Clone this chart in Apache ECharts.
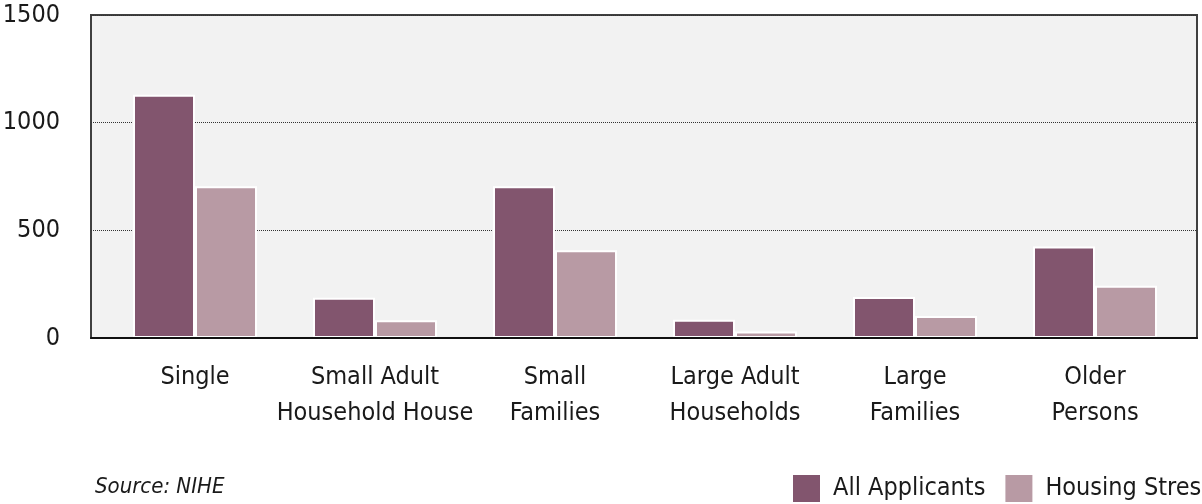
<!DOCTYPE html>
<html>
<head>
<meta charset="utf-8">
<script src="https://cdn.jsdelivr.net/npm/echarts@6/dist/echarts.min.js"></script>
<style>
  html, body { margin: 0; padding: 0; background: #ffffff; }
  #chart { width: 1202px; height: 504px; }
</style>
</head>
<body>
<div id="chart"></div>
<script>
// Household groups and applicant counts
const categories = ['Single', 'Small Adult\nHousehold House', 'Small\nFamilies', 'Large Adult\nHouseholds', 'Large\nFamilies', 'Older\nPersons'];
const allApplicants = [1130, 187, 705, 85, 190, 425];
const housingStress = [705, 82, 407, 30, 102, 243];
const yTicks = { min: 0, max: 1500, interval: 500 };
const seriesNames = ['All Applicants', 'Housing Stress'];
const sourceNote = 'Source: NIHE';

const FONT = '"DejaVu Sans Condensed", "Liberation Sans Narrow", Roboto, sans-serif';
const FS = 25;
const TEXT = '#1a1a1a';
const COLORS = ['#82556e', '#b89aa4'];

const chart = echarts.init(document.getElementById('chart'), null, { renderer: 'canvas' });

chart.setOption({
  animation: false,
  color: COLORS,
  textStyle: { fontFamily: FONT, color: TEXT },
  title: {
    text: sourceNote,
    left: 90,
    top: 471,
    textStyle: { fontFamily: FONT, fontSize: 22, fontStyle: 'italic', fontWeight: 'normal', color: TEXT }
  },
  legend: {
    left: 791,
    top: 473,
    width: 600,
    padding: 0,
    itemWidth: 29,
    itemHeight: 29,
    itemGap: 18,
    icon: 'rect',
    data: seriesNames,
    textStyle: { fontFamily: FONT, fontSize: FS, color: TEXT, padding: [0, 0, 0, 7] }
  },
  grid: [
    // framed plot panel with the value scale
    { left: 91, right: 5, top: 15, bottom: 166, outerBoundsMode: 'none', containLabel: false,
      show: true, backgroundColor: '#f2f2f2', borderColor: '#404040', borderWidth: 2 },
    // inner band that holds the category groups
    { left: 105, right: 17, top: 15, bottom: 166, outerBoundsMode: 'none', containLabel: false }
  ],
  xAxis: [
    {
      gridIndex: 0, type: 'value', min: 0, max: 1, z: 10,
      axisLine: { show: true, lineStyle: { color: '#111', width: 2 } },
      axisTick: { show: false }, axisLabel: { show: false }, splitLine: { show: false }
    },
    {
      gridIndex: 1, type: 'category', data: categories,
      axisLine: { show: false }, axisTick: { show: false },
      axisLabel: { fontFamily: FONT, fontSize: FS, color: TEXT, lineHeight: 36, margin: 21, interval: 0 }
    }
  ],
  yAxis: [
    {
      gridIndex: 0, type: 'value', min: yTicks.min, max: yTicks.max, interval: yTicks.interval,
      axisLine: { show: false }, axisTick: { show: false },
      axisLabel: { fontFamily: FONT, fontSize: FS, color: TEXT, margin: 31, formatter: v => String(v) },
      splitLine: { show: true, lineStyle: { type: 'dotted', color: '#333', width: 1 } }
    },
    {
      gridIndex: 1, type: 'value', min: yTicks.min, max: yTicks.max, interval: yTicks.interval,
      show: false, splitLine: { show: false }
    }
  ],
  series: [
    {
      name: seriesNames[0], type: 'bar', xAxisIndex: 1, yAxisIndex: 1,
      data: allApplicants, barWidth: 62, barGap: '0%',
      itemStyle: { color: COLORS[0], borderColor: '#ffffff', borderWidth: 2 }
    },
    {
      name: seriesNames[1], type: 'bar', xAxisIndex: 1, yAxisIndex: 1,
      data: housingStress, barWidth: 62, barGap: '0%',
      itemStyle: { color: COLORS[1], borderColor: '#ffffff', borderWidth: 2 }
    }
  ]
});
</script>
</body>
</html>
